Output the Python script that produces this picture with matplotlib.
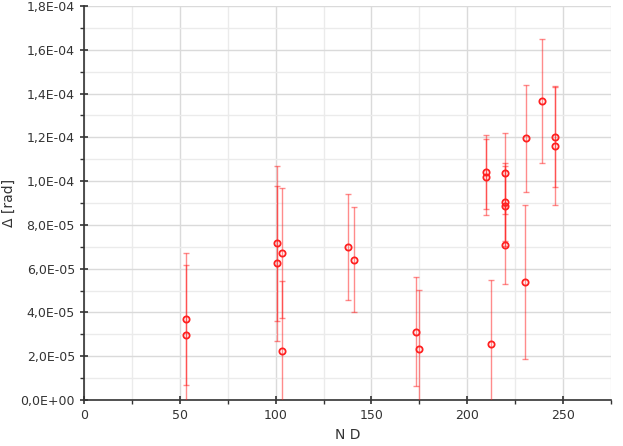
import numpy as np
import matplotlib
matplotlib.use("Agg")
import matplotlib.pyplot as plt
from matplotlib.ticker import MultipleLocator, FuncFormatter

# N D values
nd = [53.2, 53.2, 100.5, 100.5, 103.3, 103.3, 137.9, 140.7, 173.2, 174.6,
      209.6, 209.6, 212.5, 219.7, 219.7, 219.7, 219.7, 230.9, 230.2, 239.1,
      245.6, 245.6]
# Delta [rad]
delta = [3.70e-5, 2.97e-5, 7.16e-5, 6.24e-5, 6.73e-5, 2.25e-5, 6.99e-5, 6.41e-5,
         3.12e-5, 2.31e-5, 1.042e-4, 1.017e-4, 2.56e-5, 1.036e-4, 9.03e-5,
         8.86e-5, 7.08e-5, 1.196e-4, 5.38e-5, 1.366e-4, 1.201e-4, 1.162e-4]
# error
err = [3.0e-5, 3.2e-5, 3.53e-5, 3.54e-5, 2.97e-5, 3.19e-5, 2.42e-5, 2.41e-5,
       2.48e-5, 2.70e-5, 1.70e-5, 1.74e-5, 2.92e-5, 1.85e-5, 1.78e-5,
       1.84e-5, 1.79e-5, 2.45e-5, 3.52e-5, 2.82e-5, 2.30e-5, 2.71e-5]

plt.rcParams['font.family'] = ['DejaVu Sans']

fig = plt.figure(figsize=(6.23, 4.46), dpi=100)
ax = fig.add_axes([0.1348, 0.1031, 0.8459, 0.8834])

ax.errorbar(nd, delta, yerr=err, fmt='none', ecolor=(1, 0.1, 0.1, 0.5),
            elinewidth=1.0, capsize=2.2, capthick=1.0, zorder=3)
ax.plot(nd, delta, 'o', mfc='none', mec='#ff2020', mew=1.3, ms=4.5, zorder=4)

ax.set_xlim(0, 275)
ax.set_ylim(0, 1.8e-4)
ax.xaxis.set_major_locator(MultipleLocator(50))
ax.xaxis.set_minor_locator(MultipleLocator(25))
ax.yaxis.set_major_locator(MultipleLocator(2e-5))
ax.yaxis.set_minor_locator(MultipleLocator(1e-5))
ax.yaxis.set_major_formatter(FuncFormatter(lambda v, p: ("%.1E" % v).replace('.', ',')))

ax.grid(which='major', color='#dadada', linewidth=1.0)
ax.grid(which='minor', color='#ebebeb', linewidth=1.0)
ax.set_axisbelow(True)

for s in ['top', 'right']:
    ax.spines[s].set_visible(False)
for s in ['left', 'bottom']:
    ax.spines[s].set_color('#333333')
    ax.spines[s].set_linewidth(1.2)

ax.tick_params(which='major', direction='inout', length=6, width=1.2,
               color='#333333', labelsize=9, labelcolor='#333333')
ax.tick_params(which='minor', direction='out', length=3, width=1.0, color='#333333')

ax.set_xlabel('N D', fontsize=10, color='#333333', labelpad=4)
ax.set_ylabel('Δ [rad]', fontsize=10, color='#333333', labelpad=3)

fig.savefig('out.png', dpi=100)
